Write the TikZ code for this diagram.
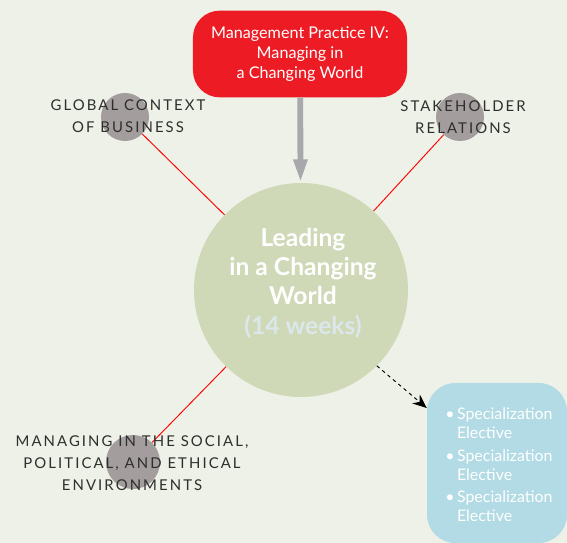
\documentclass[tikz,border=0pt]{standalone}
\usepackage{fontspec}
\setmainfont{Lato}
\newfontfamily\spacedfont[LetterSpace=14]{Lato}
\usetikzlibrary{arrows.meta}
\definecolor{pagebg}{HTML}{EEF1E7}
\definecolor{boxred}{HTML}{ED1C24}
\definecolor{hubgreen}{HTML}{CFD9B7}
\definecolor{dotgray}{HTML}{A39E9D}
\definecolor{boxblue}{HTML}{B3DBE5}
\definecolor{shaftgray}{HTML}{A7A7AC}
\definecolor{tagtext}{HTML}{2E2E2E}
\definecolor{weekblue}{HTML}{DCE7EC}

\begin{document}
\begin{tikzpicture}[x=0.03cm,y=-0.03cm,
    hub/.style={circle,fill=hubgreen,minimum size=6.42cm,inner sep=0pt},
    dot/.style={circle,fill=dotgray,inner sep=0pt},
    tag/.style={font=\spacedfont\fontsize{12.7}{18.7}\selectfont,text=tagtext,align=center},
    spoke/.style={draw=red,line width=0.8pt}]
  \fill[pagebg] (0,0) rectangle (567,543);
  \useasboundingbox (0,0) rectangle (567,543);
  % centre and top box
  \node[hub] (lead) at (301,290) {};
  \node[fill=boxred,rounded corners=0.8cm,minimum width=6.42cm,minimum height=2.6cm,
        text=white,align=center,font=\fontsize{13.8}{17}\selectfont] (mgmt) at (300,54)
        {Management Practice IV:\\Managing in\\a Changing World};
  \node[text=white,align=center,font=\bfseries\fontsize{21}{25}\selectfont] (leadtext) at (303,283)
        {Leading\\in a Changing\\World\\\textcolor{weekblue}{(14 weeks)}};
  \draw[shaftgray,line width=5pt,-{Triangle[length=20pt,width=11pt]}] (mgmt) -- (lead);
  % outer dots
  \node[dot,minimum size=1.44cm] (global) at (125,117) {};
  \node[dot,minimum size=1.44cm] (stake) at (460,117) {};
  \node[dot,minimum size=1.62cm] (social) at (133,462) {};
  \draw[spoke] (global) -- (lead);
  \draw[spoke] (stake) -- (lead);
  \draw[spoke] (social) -- (lead);
  \node[tag] (globaltag) at (128,116) {GLOBAL CONTEXT\\OF BUSINESS};
  \node[tag] (staketag) at (463,117) {STAKEHOLDER\\RELATIONS};
  \node[tag] (socialtag) at (132,463) {MANAGING IN THE SOCIAL,\\POLITICAL, AND ETHICAL\\ENVIRONMENTS};
  % electives
  \node[fill=boxblue,rounded corners=0.85cm,minimum width=4.2cm,minimum height=4.8cm] (elect) at (497,463) {};
  \node[text=white,font=\fontsize{13.6}{16.2}\selectfont] (electtext) at (499,467)
        {\begin{tabular}{@{}l@{\hspace{2pt}}l@{}}
         \textbullet & Specialization\\ & Elective\\[3pt]
         \textbullet & Specialization\\ & Elective\\[3pt]
         \textbullet & Specialization\\ & Elective
         \end{tabular}};
  \draw[dashed,line width=0.8pt,-{Stealth[length=12pt,width=10pt]}] (lead.-45) -- (elect.north west |- 0,408);
\end{tikzpicture}
\end{document}
